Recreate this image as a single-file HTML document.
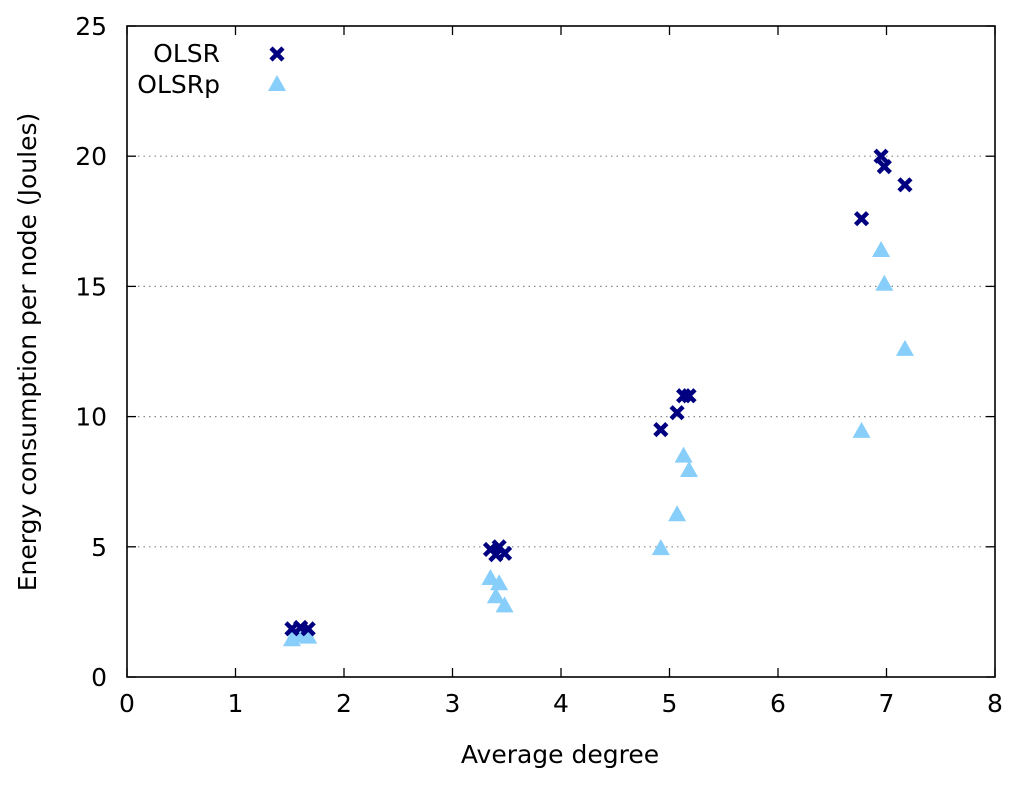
<!DOCTYPE html>
<html><head><meta charset="utf-8"><style>
body{margin:0;background:#fff;}
svg text{font-family:"DejaVu Sans","Liberation Sans",sans-serif;fill:#000;}
</style></head><body>
<svg id="chart" width="1024" height="784" xmlns="http://www.w3.org/2000/svg">
<g id="grid"></g>
<g id="axes"></g>
<g id="marks"></g>
<text x="560" y="763" text-anchor="middle" font-size="25">Average degree</text>
<text transform="translate(36,352) rotate(-90)" text-anchor="middle" font-size="25">Energy consumption per node (Joules)</text>
<g>
<text x="220" y="62" text-anchor="end" font-size="25">OLSR</text>
<text x="220" y="93" text-anchor="end" font-size="25">OLSRp</text>
<g id="leg1"></g>
<g id="leg2"></g>
</g>
</svg>
<script>
const degree = [1.52,1.60,1.67, 3.35,3.40,3.43,3.48, 4.92,5.07,5.13,5.18, 6.77,6.95,6.98,7.17];
const olsr   = [1.85,1.9,1.85, 4.9,4.7,5.0,4.75, 9.5,10.15,10.8,10.8, 17.6,20.0,19.6,18.9];
const olsrp  = [1.45,1.6,1.55, 3.8,3.1,3.6,2.75, 4.95,6.25,8.5,7.95, 9.45,16.4,15.1,12.6];
const xTicks = [0,1,2,3,4,5,6,7,8];
const yTicks = [0,5,10,15,20,25];
const L=127,R=995,T=26,B=677;
const sx=v=>L+(v-0)/8*(R-L);
const sy=v=>B-(v-0)/25*(B-T);
const NS="http://www.w3.org/2000/svg";
function mk(tag,attrs,parent){const e=document.createElementNS(NS,tag);for(const k in attrs)e.setAttribute(k,attrs[k]);parent.appendChild(e);return e;}
const grid=document.getElementById('grid'),axes=document.getElementById('axes'),marks=document.getElementById('marks');
yTicks.forEach(t=>{
  if(t>0&&t<25){const g=mk('line',{x1:L,x2:R,y1:sy(t),y2:sy(t),stroke:'#888','stroke-width':1.2,'stroke-dasharray':'1.5,4'},grid);
  
  }
  const tk=mk('line',{x1:L,x2:L+9,y1:sy(t),y2:sy(t),stroke:'#000','stroke-width':1.3},axes);
  
  
  mk('line',{x1:R,x2:R-9,y1:sy(t),y2:sy(t),stroke:'#000','stroke-width':1.3},axes);
  const lb=mk('text',{x:L-20,y:sy(t)+9,'text-anchor':'end','font-size':25},axes);lb.textContent=t;
  
  
});
xTicks.forEach(t=>{
  const tk=mk('line',{x1:sx(t),x2:sx(t),y1:B,y2:B-9,stroke:'#000','stroke-width':1.3},axes);
  
  
  mk('line',{x1:sx(t),x2:sx(t),y1:T,y2:T+9,stroke:'#000','stroke-width':1.3},axes);
  const lb=mk('text',{x:sx(t),y:B+35,'text-anchor':'middle','font-size':25},axes);lb.textContent=t;
  
  
});
const fr=mk('rect',{x:L,y:T,width:R-L,height:B-T,fill:'none',stroke:'#000','stroke-width':1.6},axes);


function cross(x,y,p){const g=mk('path',{d:`M${x-6},${y-6}L${x+6},${y+6}M${x-6},${y+6}L${x+6},${y-6}`,stroke:'#000080','stroke-width':4.5,fill:'none'},p);return g;}
function tri(x,y,p){return mk('path',{d:`M${x},${y-9}L${x+9},${y+7}L${x-9},${y+7}Z`,fill:'#87cefa'},p);}
degree.forEach((d,i)=>{
  const t=tri(sx(d),sy(olsrp[i]),marks);
  
  
});
degree.forEach((d,i)=>{
  const c=cross(sx(d),sy(olsr[i]),marks);
  
  
});
cross(277,54,document.getElementById('leg1'));
tri(277,84,document.getElementById('leg2'));
</script>
</body></html>
